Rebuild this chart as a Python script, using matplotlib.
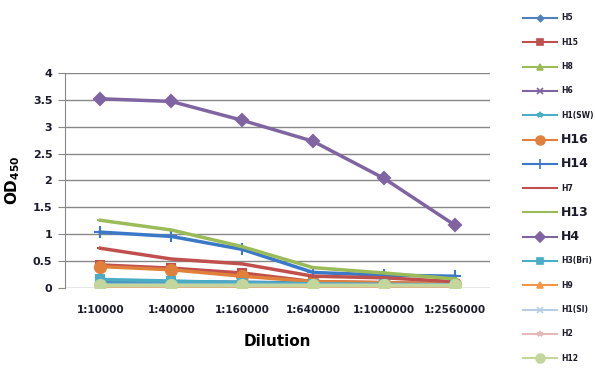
import matplotlib.pyplot as plt
from matplotlib.lines import Line2D

dilutions = ['1:10000', '1:40000', '1:160000', '1:640000', '1:1000000', '1:2560000']

names = ['H5', 'H15', 'H8', 'H6', 'H1(SW)', 'H16', 'H14', 'H7', 'H13', 'H4',
         'H3(Bri)', 'H9', 'H1(SI)', 'H2', 'H12']

h5 = [0.12, 0.12, 0.11, 0.09, 0.08, 0.07]
h15 = [0.43, 0.37, 0.28, 0.12, 0.10, 0.08]
h8 = [0.06, 0.06, 0.06, 0.05, 0.05, 0.05]
h6 = [0.05, 0.05, 0.05, 0.05, 0.05, 0.05]
h1_sw = [0.07, 0.07, 0.06, 0.06, 0.05, 0.05]
h16 = [0.40, 0.34, 0.22, 0.12, 0.10, 0.08]
h14 = [1.04, 0.96, 0.72, 0.29, 0.24, 0.22]
h7 = [0.74, 0.54, 0.45, 0.22, 0.19, 0.12]
h13 = [1.26, 1.08, 0.77, 0.38, 0.28, 0.17]
h4 = [3.52, 3.47, 3.12, 2.73, 2.04, 1.17]
h3_bri = [0.16, 0.13, 0.10, 0.08, 0.07, 0.06]
h9 = [0.04, 0.04, 0.04, 0.04, 0.04, 0.04]
h1_si = [0.05, 0.05, 0.05, 0.05, 0.05, 0.05]
h2 = [0.05, 0.05, 0.05, 0.05, 0.05, 0.05]
h12 = [0.05, 0.05, 0.05, 0.05, 0.05, 0.05]

series = [h5, h15, h8, h6, h1_sw, h16, h14, h7, h13, h4, h3_bri, h9, h1_si, h2, h12]

colors = ['#4F81BD', '#C0504D', '#9BBB59', '#8064A2', '#4BACC6', '#E0803A', '#3C78C8',
          '#C0504D', '#9BBB59', '#8064A2', '#4BACC6', '#F79646', '#B9CDE5', '#E6B9B8', '#C3D69B']
markers = ['D', 's', '^', 'x', '*', 'o', '+', '_', '_', 'D', 's', '^', 'x', '*', 'o']
msizes = [4, 6, 5, 5, 5, 8, 9, 5, 5, 6.5, 6, 6, 5, 5, 8]
big = ['H16', 'H14', 'H13', 'H4']

fig = plt.figure(figsize=(5.95, 3.78), dpi=100)
ax = fig.add_axes([0.109, 0.238, 0.715, 0.569])

x = list(range(len(dilutions)))
for name, vals, c, m, ms in zip(names, series, colors, markers, msizes):
    ax.plot(x, vals, color=c, marker=m, markersize=ms, linewidth=2.5,
            markeredgewidth=1.5, label=name)

ax.set_ylim(0, 4)
ax.set_yticks([0, 0.5, 1, 1.5, 2, 2.5, 3, 3.5, 4])
ax.set_yticklabels(['0', '0.5', '1', '1.5', '2', '2.5', '3', '3.5', '4'])
ax.set_xlim(-0.5, 5.5)
ax.set_xticks(x)
ax.set_xticklabels(dilutions)
ax.tick_params(axis='x', length=0, pad=12, labelsize=7.5, labelcolor='#1a1a2a')
ax.tick_params(axis='y', length=5, color='#888888', labelsize=8, labelcolor='#1a1a2a', pad=4)
for lab in ax.get_xticklabels() + ax.get_yticklabels():
    lab.set_fontweight('bold')
ax.grid(axis='y', color='#888888', linewidth=1)
ax.set_axisbelow(True)
for s in ['top', 'right', 'bottom']:
    ax.spines[s].set_visible(False)
ax.spines['left'].set_color('#888888')

ax.set_xlabel('Dilution', fontsize=11, fontweight='bold', labelpad=14)
ax.set_ylabel('OD$_{\\mathbf{450}}$', fontsize=11, fontweight='bold')
ax.yaxis.set_label_coords(-0.1, 0.5)

# legend drawn by hand to match the spacing of the original
for i, (name, c, m, ms) in enumerate(zip(names, colors, markers, msizes)):
    yy = 1 - (18 + i * 24.3) / 378
    fig.add_artist(Line2D([523 / 595, 557 / 595], [yy, yy], color=c, linewidth=1.5))
    fig.add_artist(Line2D([540 / 595], [yy], color=c, marker=m, markersize=ms * 0.8,
                          markeredgewidth=1.2))
    fs = 9 if name in big else 5.5
    fig.text(561 / 595, yy, name, fontsize=fs, fontweight='bold', va='center',
             ha='left', color='#1a1a2a')

fig.savefig('out.png', dpi=100)
